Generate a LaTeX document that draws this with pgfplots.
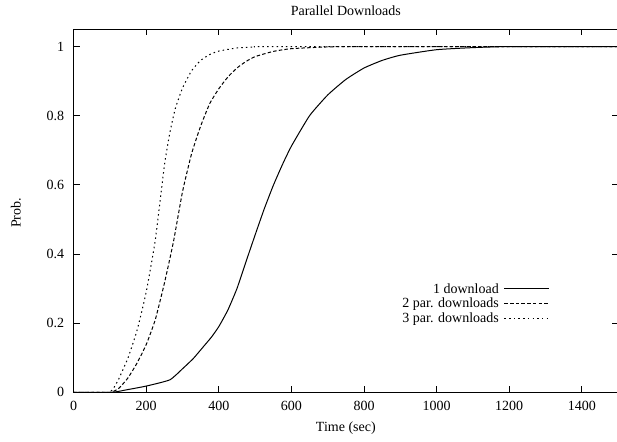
\documentclass[border=0pt]{standalone}
\usepackage{pgfplots}
\pgfplotsset{compat=1.18}
\usepackage{fontspec}
\setmainfont{Liberation Serif}
\begin{document}
\begin{tikzpicture}[font=\fontsize{14bp}{16bp}\selectfont]
\begin{axis}[
  at={(0,0)}, anchor=south west,
  scale only axis,
  width=544.5bp, height=363bp,
  xmin=0, xmax=1500, ymin=0, ymax=1.05,
  xtick={0,200,...,1400},
  ytick={0,0.2,0.4,0.6,0.8,1},
  yticklabels={0,0.2,0.4,0.6,0.8,1},
  /pgf/number format/assume math mode=true,
  /pgf/number format/1000 sep={},
  tick align=inside,
  major tick length=6bp,
  tick style={line width=0.9bp, black},
  axis line style={line width=1bp},
  xticklabel style={yshift=-5bp},
  yticklabel style={xshift=-6bp},
  every axis title shift=0pt,
  title={Parallel Downloads},
  title style={at={(axis description cs:0.5,1.0523)}, anchor=center},
  xlabel={Time (sec)},
  xlabel style={at={(axis description cs:0.5,-0.0992)}, anchor=center},
  ylabel={Prob.},
  ylabel style={at={(axis description cs:-0.1058,0.494)}, anchor=center},
  legend plot pos=right,
  legend cell align=right,
  legend image code/.code={\draw[#1] (0bp,0bp) -- (45bp,0bp);},
  legend style={at={(axis cs:1312,0.318)}, anchor=north east, draw=none, fill=none,
    inner sep=0pt, outer sep=0pt, nodes={inner sep=1bp}, row sep=1.5bp, column sep=4bp},
]
\addplot[black, line width=1bp, smooth, tension=0.3] coordinates {
(0,0) (105,0) (150,0.008) (200,0.018) (265,0.036) (300,0.068) (330,0.098) (360,0.135)
(380,0.16) (400,0.19) (425,0.238) (450,0.30) (475,0.378) (500,0.455) (525,0.53) (550,0.598)
(575,0.658) (600,0.712) (650,0.80) (700,0.86) (750,0.905) (800,0.938) (850,0.96)
(900,0.975) (1000,0.991) (1100,0.997) (1200,1) (1500,1)};
\addlegendentry{1 download}
\addplot[black, line width=1bp, dash pattern=on 3.5bp off 2.2bp, smooth, tension=0.3] coordinates {
(0,0) (100,0) (125,0.012) (150,0.042) (175,0.085) (200,0.138) (225,0.21) (250,0.315)
(275,0.435) (300,0.58) (325,0.69) (350,0.77) (375,0.835) (400,0.878) (425,0.912)
(450,0.938) (475,0.957) (500,0.971) (550,0.986) (600,0.994) (700,0.999) (800,1) (1500,1)};
\addlegendentry{2 par. downloads}
\addplot[black, line width=1bp, dash pattern=on 1.5bp off 3.2bp, smooth, tension=0.3] coordinates {
(0,0) (95,0) (110,0.012) (125,0.04) (150,0.1) (175,0.18) (200,0.29) (225,0.44)
(250,0.655) (265,0.75) (280,0.82) (300,0.88) (325,0.93) (350,0.96) (375,0.977)
(400,0.987) (450,0.996) (500,0.999) (550,1) (1500,1)};
\addlegendentry{3 par. downloads}
\end{axis}
\pgfresetboundingbox
\useasboundingbox (-73.6bp,-49.7bp) rectangle (543.4bp,392.3bp);
\end{tikzpicture}
\end{document}
